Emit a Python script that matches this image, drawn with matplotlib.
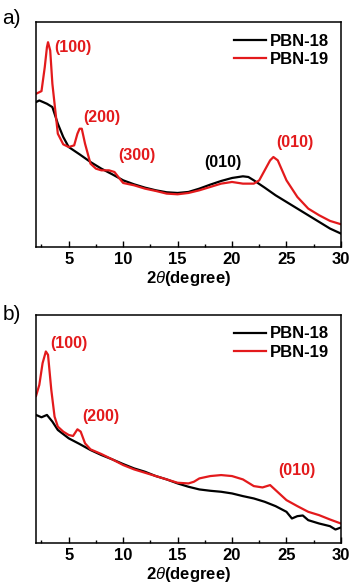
import numpy as np
import matplotlib
matplotlib.use('Agg')
import matplotlib.pyplot as plt
from matplotlib.ticker import MultipleLocator

plt.rcParams['font.family'] = ['Liberation Sans', 'DejaVu Sans']
plt.rcParams['mathtext.fontset'] = 'custom'
plt.rcParams['mathtext.it'] = 'Liberation Sans:italic'

RED = '#e31a1c'

# panel a) (arbitrary intensity)
a_x18 = [2, 2.3, 3, 3.5, 4, 4.5, 5, 6, 7, 8, 9, 10, 11, 12, 13, 14, 15, 16, 17, 18,
         19, 20, 21, 21.5, 22, 23, 24, 25, 26, 27, 28, 29, 30]
a_y18 = [435, 440, 430, 420, 370, 330, 300, 278, 255, 235, 218, 200, 188, 178, 170, 164,
         162, 165, 175, 187, 198, 207, 212, 210, 200, 178, 155, 135, 115, 95, 75, 55, 40]
a_x19 = [2, 2.5, 2.8, 3.0, 3.1, 3.3, 3.5, 3.8, 4, 4.5, 5, 5.5, 5.8, 6.0, 6.2, 6.5, 7, 7.5,
         8, 8.7, 9.2, 9.8, 10, 11, 12, 13, 14, 15, 16, 17, 18, 19, 20, 21, 22, 22.5, 23,
         23.5, 23.8, 24.2, 25, 26, 27, 28, 29, 30]
a_y19 = [460, 468, 540, 600, 615, 590, 490, 400, 340, 308, 300, 305, 340, 355, 355, 310,
         250, 235, 230, 230, 225, 200, 192, 185, 175, 168, 160, 158, 162, 170, 180, 190,
         195, 190, 190, 200, 230, 260, 270, 260, 200, 150, 115, 95, 78, 68]

# panel b)
b_x18 = [2, 2.5, 3, 3.5, 4, 5, 6, 7, 8, 9, 10, 11, 12, 13, 14, 15, 16, 17, 18, 19, 20,
         21, 22, 23, 24, 25, 25.5, 26, 26.5, 27, 28, 29, 29.5, 30]
b_y18 = [383, 376, 383, 363, 338, 313, 296, 278, 263, 250, 236, 223, 213, 200, 190, 178,
         168, 160, 156, 153, 148, 140, 133, 123, 110, 93, 73, 80, 82, 68, 58, 50, 40, 46]
b_x19 = [2, 2.3, 2.6, 2.9, 3.1, 3.4, 3.7, 4, 4.5, 5, 5.4, 5.8, 6.1, 6.5, 7, 8, 9, 10, 11,
         12, 13, 14, 15, 16, 16.5, 17, 18, 19, 20, 21, 22, 22.8, 23.5, 24, 25, 26, 27, 28,
         29, 30]
b_y19 = [440, 473, 538, 573, 563, 458, 378, 348, 333, 323, 320, 340, 333, 298, 280, 266,
         250, 233, 220, 210, 200, 190, 180, 178, 183, 193, 200, 203, 200, 190, 170, 166,
         173, 158, 128, 110, 93, 83, 70, 58]

# peak labels: (text, x, y, colour)
a_labels = [('(100)', 3.65, 600, RED), ('(200)', 6.35, 390, RED), ('(300)', 9.57, 275, RED),
            ('(010)', 17.44, 255, 'black'), ('(010)', 24.1, 315, RED)]
b_labels = [('(100)', 3.35, 598, RED), ('(200)', 6.2, 378, RED), ('(010)', 24.27, 218, RED)]

fig = plt.figure(figsize=(3.5, 5.85), dpi=100)
ax_a = fig.add_axes([0.103, 0.578, 0.871, 0.384])
ax_b = fig.add_axes([0.103, 0.072, 0.871, 0.39])

panels = [(ax_a, a_x18, a_y18, a_x19, a_y19, a_labels, 675, 'a)', 1.015),
          (ax_b, b_x18, b_y18, b_x19, b_y19, b_labels, 683, 'b)', 1.0)]

for ax, x18, y18, x19, y19, labels, ytop, tag, tag_y in panels:
    ax.plot(x18, y18, color='black', lw=1.6, label='PBN-18')
    ax.plot(x19, y19, color=RED, lw=1.6, label='PBN-19')
    ax.set_xlim(2, 30)
    ax.set_ylim(0, ytop)
    ax.set_yticks([])
    ax.xaxis.set_major_locator(MultipleLocator(5))
    ax.xaxis.set_minor_locator(MultipleLocator(2.5))
    ax.tick_params(axis='x', which='major', direction='in', length=4, width=1, pad=4)
    ax.tick_params(axis='x', which='minor', direction='in', length=2, width=1)
    for lab in ax.get_xticklabels():
        lab.set_fontsize(12)
        lab.set_fontweight('bold')
    for s in ax.spines.values():
        s.set_linewidth(1.1)
    ax.set_xlabel(r'2$\mathit{\theta}$(degree)', fontsize=12, fontweight='bold', labelpad=1)
    for txt, tx, ty, c in labels:
        ax.text(tx, ty, txt, color=c, fontsize=11.5, fontweight='bold', va='center', ha='left')
    ax.legend(loc='upper right', bbox_to_anchor=(1.0, 1.0), frameon=False,
              prop={'size': 12, 'weight': 'bold'}, handlelength=1.9, handletextpad=0.25,
              labelspacing=0.2, borderaxespad=0.3)
    ax.text(-0.11, tag_y, tag, transform=ax.transAxes, fontsize=15, va='center', ha='left')

fig.savefig('out.png', dpi=100)
